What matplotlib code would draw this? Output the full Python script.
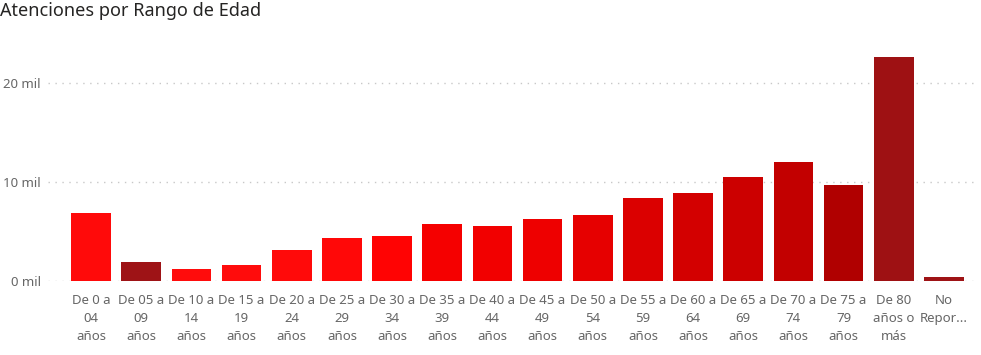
import matplotlib.pyplot as plt

plt.rcParams['font.family'] = ['Noto Sans', 'DejaVu Sans']

# Rangos de edad (etiquetas del eje x)
rangos = ['De 0 a\n04\naños', 'De 05 a\n09\naños', 'De 10 a\n14\naños', 'De 15 a\n19\naños',
          'De 20 a\n24\naños', 'De 25 a\n29\naños', 'De 30 a\n34\naños', 'De 35 a\n39\naños',
          'De 40 a\n44\naños', 'De 45 a\n49\naños', 'De 50 a\n54\naños', 'De 55 a\n59\naños',
          'De 60 a\n64\naños', 'De 65 a\n69\naños', 'De 70 a\n74\naños', 'De 75 a\n79\naños',
          'De 80\naños o\nmás', 'No\nRepor...']
# Atenciones (miles)
atenciones = [6.9, 1.93, 1.22, 1.6, 3.15, 4.35, 4.6, 5.8, 5.6, 6.3, 6.7, 8.45,
              8.95, 10.5, 12.0, 9.75, 22.65, 0.37]
colores = ['#FF0A0A', '#9E1316', '#FF0C0C', '#FF0C0C', '#FF0A0A', '#FF0808', '#FF0303',
           '#F50000', '#F20000', '#EE0000', '#E60000', '#DB0000', '#D30000', '#CC0000',
           '#C20000', '#B00000', '#9E1113', '#9E1316']

fig = plt.figure(figsize=(9.81, 3.55), dpi=100)
ax = fig.add_axes([48 / 981, 74 / 355, (976 - 48) / 981, (281 - 38) / 355])

x = range(len(rangos))
ax.bar(x, atenciones, width=0.79, color=colores, zorder=3)

ax.set_xlim(-0.86, 17.64)
ax.set_ylim(0, 24.6)
ax.set_yticks([0, 10, 20])
ax.set_yticklabels(['0 mil', '10 mil', '20 mil'])
ax.grid(axis='y', linestyle=(0, (1, 4)), color='#C8C8C8', linewidth=1, zorder=0)
ax.set_xticks(list(x))
ax.set_xticklabels(rangos, linespacing=1.55)
ax.tick_params(axis='both', length=0, colors='#666666', labelsize=9.5)
ax.tick_params(axis='x', pad=9)
ax.tick_params(axis='y', pad=5)
for s in ax.spines.values():
    s.set_visible(False)

fig.text(0, 1 - 11 / 355, 'Atenciones por Rango de Edad', fontsize=13,
         color='#252423', va='center', ha='left')

fig.savefig('out.png', dpi=100)
